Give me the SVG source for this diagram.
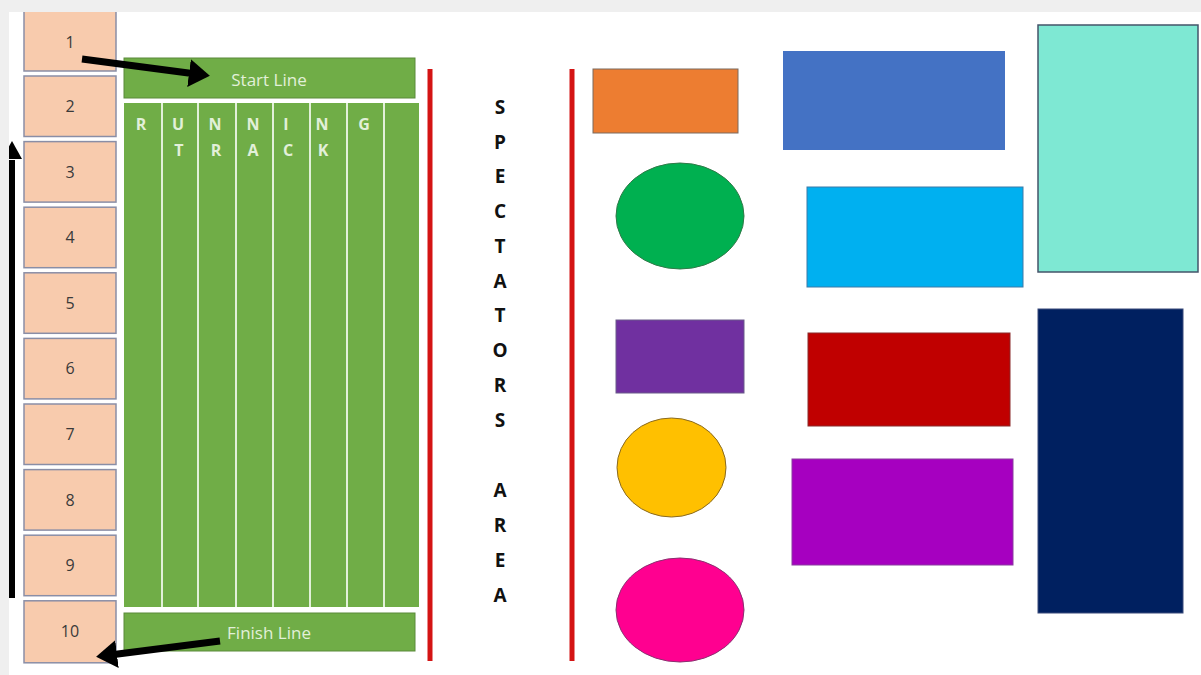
<svg xmlns="http://www.w3.org/2000/svg" width="1201" height="675" viewBox="0 0 1201 675">
<style>
.box{fill:#f8cbad;stroke:#8a8ea6;stroke-width:1.5}
.num{font-family:"Open Sans","Liberation Sans",sans-serif;font-size:16px;fill:#3a3a3a;text-anchor:middle}
.green{fill:#70ad47;stroke:#5a8a3a;stroke-width:1}
.lane{stroke:#e2f0d9;stroke-width:2}
.lbl{font-family:"Open Sans","Liberation Sans",sans-serif;font-size:17px;fill:#e2f0d9;text-anchor:middle}
.tl{font-family:"Open Sans","Liberation Sans",sans-serif;font-size:16px;font-weight:bold;fill:#e2f0d9;text-anchor:middle}
.sp{font-family:"Open Sans","Liberation Sans",sans-serif;font-size:19px;font-weight:bold;fill:#111;text-anchor:middle}
.red{stroke:#d41414;stroke-width:5}
.arr{stroke:#000;stroke-width:7;fill:none}
</style>
<defs>
<marker id="ah" markerWidth="4" markerHeight="4" refX="1" refY="2" orient="auto" markerUnits="strokeWidth">
<path d="M0,0 L3,2 L0,4 z" fill="#000"/>
</marker>
</defs>
<rect x="0" y="0" width="1201" height="675" fill="#ffffff"/>

<g id="box1"><rect class="box" x="24" y="6" width="92" height="65"/><text class="num" x="70" y="48">1</text></g>
<g id="box2"><rect class="box" x="24" y="76" width="92" height="60.5"/><text class="num" x="70" y="112">2</text></g>
<g id="box3"><rect class="box" x="24" y="141.6" width="92" height="60.5"/><text class="num" x="70" y="177.5">3</text></g>
<g id="box4"><rect class="box" x="24" y="207.2" width="92" height="60.5"/><text class="num" x="70" y="243">4</text></g>
<g id="box5"><rect class="box" x="24" y="272.8" width="92" height="60.5"/><text class="num" x="70" y="308.5">5</text></g>
<g id="box6"><rect class="box" x="24" y="338.4" width="92" height="60.5"/><text class="num" x="70" y="374">6</text></g>
<g id="box7"><rect class="box" x="24" y="404" width="92" height="60.5"/><text class="num" x="70" y="440">7</text></g>
<g id="box8"><rect class="box" x="24" y="469.6" width="92" height="60.5"/><text class="num" x="70" y="505.5">8</text></g>
<g id="box9"><rect class="box" x="24" y="535.2" width="92" height="60.5"/><text class="num" x="70" y="571">9</text></g>
<g id="box10"><rect class="box" x="24" y="600.8" width="92" height="62"/><text class="num" x="70" y="637">10</text></g>

<g id="start-line"><rect class="green" x="124" y="58" width="291" height="40"/><text class="lbl" x="269" y="86">Start Line</text></g>
<g id="finish-line"><rect class="green" x="124" y="613" width="291" height="38"/><text class="lbl" x="269" y="639">Finish Line</text></g>

<g id="running-track">
<rect x="124" y="103" width="295" height="504" fill="#70ad47"/>
<line class="lane" x1="162" y1="103" x2="162" y2="607"/>
<line class="lane" x1="198" y1="103" x2="198" y2="607"/>
<line class="lane" x1="236" y1="103" x2="236" y2="607"/>
<line class="lane" x1="273" y1="103" x2="273" y2="607"/>
<line class="lane" x1="310" y1="103" x2="310" y2="607"/>
<line class="lane" x1="347" y1="103" x2="347" y2="607"/>
<line class="lane" x1="384" y1="103" x2="384" y2="607"/>
<text class="tl" x="141" y="130">R</text>
<text class="tl" x="178" y="130">U</text>
<text class="tl" x="215" y="130">N</text>
<text class="tl" x="253" y="130">N</text>
<text class="tl" x="286" y="130">I</text>
<text class="tl" x="322" y="130">N</text>
<text class="tl" x="364" y="130">G</text>
<text class="tl" x="179" y="156">T</text>
<text class="tl" x="216" y="156">R</text>
<text class="tl" x="253" y="156">A</text>
<text class="tl" x="288" y="156">C</text>
<text class="tl" x="323" y="156">K</text>
</g>

<g id="barriers">
<line class="red" x1="430" y1="69" x2="430" y2="661"/>
<line class="red" x1="572" y1="69" x2="572" y2="661"/>
</g>

<g id="spectators-area">
<text class="sp" x="500" y="114">S</text>
<text class="sp" x="500" y="149">P</text>
<text class="sp" x="500" y="183">E</text>
<text class="sp" x="500" y="218">C</text>
<text class="sp" x="500" y="253">T</text>
<text class="sp" x="500" y="288">A</text>
<text class="sp" x="500" y="322">T</text>
<text class="sp" x="500" y="357">O</text>
<text class="sp" x="500" y="392">R</text>
<text class="sp" x="500" y="427">S</text>
<text class="sp" x="500" y="497">A</text>
<text class="sp" x="500" y="532">R</text>
<text class="sp" x="500" y="567">E</text>
<text class="sp" x="500" y="602">A</text>
</g>

<g id="shape-orange"><rect x="593" y="69" width="145" height="64" fill="#ed7d31" stroke="#7a6a5e" stroke-width="1"/></g>
<g id="shape-green-ellipse"><ellipse cx="680" cy="216" rx="64" ry="53" fill="#00b050" stroke="#2f7a48" stroke-width="1"/></g>
<g id="shape-purple"><rect x="616" y="320" width="128" height="73" fill="#7030a0" stroke="#6a5a8a" stroke-width="1"/></g>
<g id="shape-yellow-ellipse"><ellipse cx="671.5" cy="467.5" rx="54.5" ry="49.5" fill="#ffc000" stroke="#8a6a20" stroke-width="1"/></g>
<g id="shape-pink-ellipse"><ellipse cx="680" cy="610" rx="64" ry="52" fill="#ff0090" stroke="#8a3070" stroke-width="1"/></g>
<g id="shape-blue"><rect x="783" y="51" width="222" height="99" fill="#4472c4"/></g>
<g id="shape-lightblue"><rect x="807" y="187" width="216" height="100" fill="#00b0f0" stroke="#3a7aa8" stroke-width="1"/></g>
<g id="shape-red"><rect x="808" y="333" width="202" height="93" fill="#c00000" stroke="#8a2a2a" stroke-width="1"/></g>
<g id="shape-magenta"><rect x="792" y="459" width="221" height="106" fill="#a600c0" stroke="#8a3aa0" stroke-width="1"/></g>
<g id="shape-teal"><rect x="1038" y="25" width="160" height="247" fill="#7ee8d3" stroke="#44546a" stroke-width="1.5"/></g>
<g id="shape-navy"><rect x="1038" y="309" width="145" height="304" fill="#002060" stroke="#3a4a7a" stroke-width="1"/></g>

<g id="connectors">
<line class="arr" x1="82" y1="59" x2="196" y2="74" marker-end="url(#ah)"/>
<line class="arr" x1="220" y1="641" x2="110" y2="655" marker-end="url(#ah)"/>
<line x1="12" y1="598" x2="12" y2="160" stroke="#000" stroke-width="6"/>
<polygon points="12,141 22,159 2,159" fill="#000"/>
</g>

<rect x="0" y="0" width="1201" height="12" fill="#efefef"/>
<rect x="0" y="0" width="9" height="675" fill="#efefef"/>
</svg>
